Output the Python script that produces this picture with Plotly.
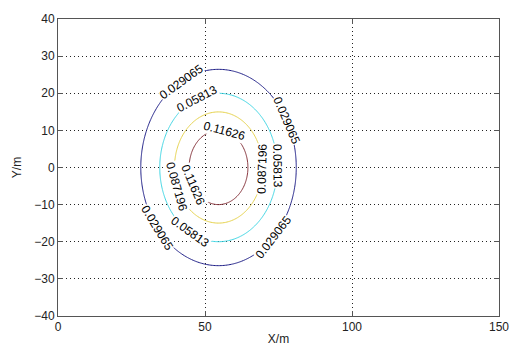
import numpy as np
import plotly.graph_objects as go

# Values
x_range = [0, 150]
y_range = [-40, 40]
x_ticks = [0, 50, 100, 150]
y_ticks = [-40, -30, -20, -10, 0, 10, 20, 30, 40]

# Concentration field (Gaussian source) estimated from the contour sizes
source_x = 54.6
source_y = 0.0
peak = 0.1465
spread = 14.7

levels = [0.0290652, 0.0581304, 0.0871956, 0.1162608]
level_text = ["0.029065", "0.05813", "0.087196", "0.11626"]
level_colors = ["#1c1c86", "#3fd6e4", "#e6d24a", "#843038"]

# contour label placement: (level index, angle around the source in degrees)
label_level = [0, 0, 0, 0, 1, 1, 1, 2, 2, 3, 3]
label_angle = [119, 29, 218, -45, 112, 1, 241, 200, -2, 78, 209]

W, H = 521, 356
ML, MR, MT, MB = 58, 15, 14, 33

xs = np.linspace(x_range[0], x_range[1], 301)
ys = np.linspace(y_range[0], y_range[1], 321)
X, Y = np.meshgrid(xs, ys)
Z = peak * np.exp(-((X - source_x) ** 2 + (Y - source_y) ** 2) / (2 * spread ** 2))

fig = go.Figure()
for lev, col in zip(levels, level_colors):
    fig.add_trace(go.Contour(
        x=xs, y=ys, z=Z,
        contours=dict(start=lev, end=lev, size=1, coloring="lines", showlabels=False),
        colorscale=[[0, col], [1, col]],
        line=dict(width=1),
        showscale=False,
        hoverinfo="skip",
    ))

# pixels per data unit (for label rotation along the curves)
sx = (W - ML - MR) / (x_range[1] - x_range[0])
sy = (H - MT - MB) / (y_range[1] - y_range[0])

annotations = []
for li, ang in zip(label_level, label_angle):
    r = spread * np.sqrt(2 * np.log(peak / levels[li]))
    t = np.radians(ang)
    ax_ = source_x + r * np.cos(t)
    ay_ = source_y + r * np.sin(t)
    dx = -np.sin(t) * sx
    dy = -np.cos(t) * sy  # screen y points down
    rot = np.degrees(np.arctan2(dy, dx))
    if rot > 90:
        rot -= 180
    elif rot <= -90:
        rot += 180
    annotations.append(dict(
        x=ax_, y=ay_, xref="x", yref="y", text=level_text[li], showarrow=False,
        textangle=rot, bgcolor="white", borderpad=0,
        font=dict(size=12, color="black", family="Liberation Sans"),
    ))

axis_common = dict(
    showgrid=True, gridcolor="#222222", griddash="1px,3px", gridwidth=1,
    zeroline=False, showline=True, linecolor="#555555", linewidth=1,
    mirror="ticks", ticks="inside", ticklen=5, tickcolor="#555555",
    tickfont=dict(size=12, color="#222222", family="Liberation Sans"),
)

fig.update_layout(
    autosize=True,
    margin=dict(l=ML, r=MR, t=MT, b=MB),
    paper_bgcolor="white", plot_bgcolor="white",
    showlegend=False,
    annotations=annotations,
    xaxis=dict(range=x_range, tickvals=x_ticks, title=dict(text="X/m", standoff=1,
               font=dict(size=12, color="#222222", family="Liberation Sans")), **axis_common),
    yaxis=dict(range=y_range, tickvals=y_ticks, title=dict(text="Y/m", standoff=10,
               font=dict(size=12, color="#222222", family="Liberation Sans")), **axis_common),
)

post = (
    "document.documentElement.style.height='100%';"
    "document.documentElement.style.overflow='hidden';"
    "document.body.style.height='100%';"
    "document.body.style.margin='0';"
    "document.body.style.overflow='hidden';"
    "var gd=document.getElementById('{plot_id}');"
    "if(gd.parentElement){gd.parentElement.style.height='100%';}"
    "Plotly.Plots.resize(gd);"
)

fig.write_html(
    "out.html",
    config={"displayModeBar": False, "responsive": True},
    default_width="100%", default_height="100%",
    post_script=post,
)
